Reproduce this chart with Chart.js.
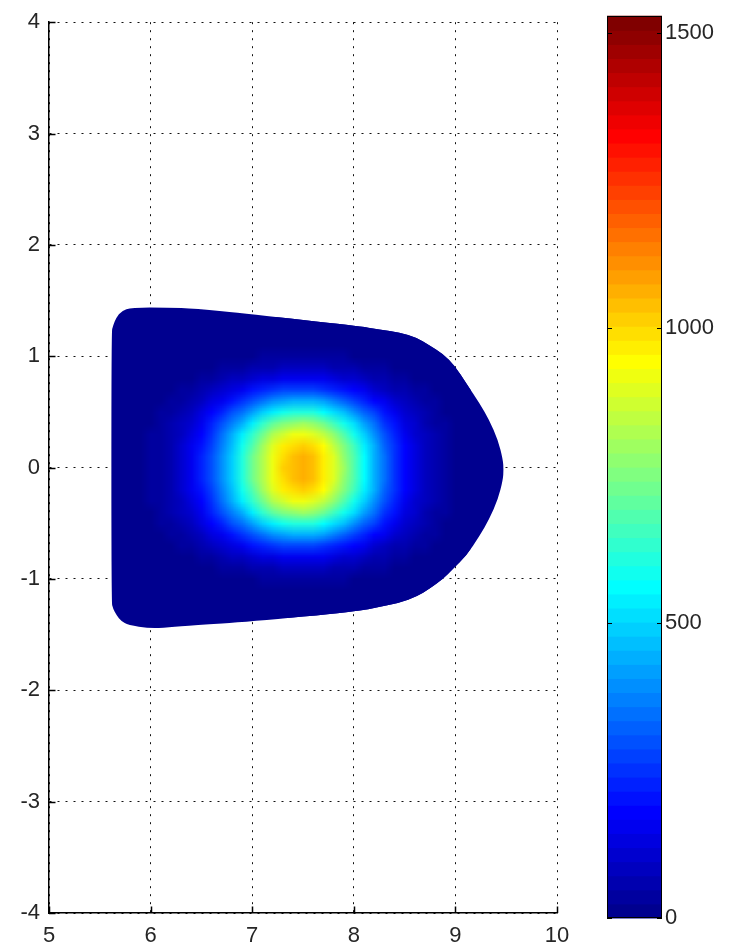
<!DOCTYPE html>
<html>
<head>
<meta charset="utf-8">
<script src="https://cdn.jsdelivr.net/npm/chart.js@4/dist/chart.umd.min.js"></script>
<style>
  html, body { margin: 0; padding: 0; background: #fff; }
  #wrap { position: relative; width: 730px; height: 948px; }
  #wrap canvas { position: absolute; left: 0; top: 0; }
</style>
</head>
<body>
<div id="wrap">
  <canvas id="field" width="730" height="948"></canvas>
  <canvas id="cbar" width="730" height="948"></canvas>
</div>
<script>
// Axis ticks
const xTicks = [5, 6, 7, 8, 9, 10];
const yTicks = [-4, -3, -2, -1, 0, 1, 2, 3, 4];

// Colour scale limits and colourbar ticks
const cbMin = 0;
const cbMax = 1528;
const cbTicks = [0, 500, 1000, 1500];

// Outline of the measured region (x, y in plot units)
const boundaryX = [5.614, 5.630, 5.663, 5.713, 5.811, 6.171, 6.434, 6.975, 8.029, 8.255, 8.452, 8.616, 8.747, 8.878, 8.993, 9.108, 9.239, 9.333, 9.419, 9.468, 9.474, 9.468, 9.419, 9.333, 9.239, 9.108, 8.976, 8.878, 8.747, 8.616, 8.452, 8.255, 8.029, 6.975, 6.434, 6.171, 5.991, 5.778, 5.713, 5.663, 5.630, 5.614];
const boundaryY = [1.215, 1.274, 1.349, 1.407, 1.438, 1.438, 1.429, 1.378, 1.271, 1.242, 1.212, 1.168, 1.095, 1.021, 0.917, 0.754, 0.576, 0.427, 0.249, 0.070, -0.019, -0.108, -0.286, -0.464, -0.612, -0.791, -0.910, -0.999, -1.088, -1.160, -1.213, -1.252, -1.290, -1.385, -1.414, -1.436, -1.445, -1.414, -1.379, -1.325, -1.266, -1.207];

// Sample positions of the intensity grid
const gridX = [6.0, 6.1, 6.2, 6.3, 6.4, 6.5, 6.6, 6.7, 6.8, 6.9, 7.0, 7.1, 7.2, 7.3, 7.4, 7.5, 7.6, 7.7, 7.8, 7.9, 8.0, 8.1, 8.2, 8.3, 8.4, 8.5, 8.6, 8.7, 8.8, 8.9, 9.0];
const gridY = [1.2, 1.1, 1.0, 0.9, 0.8, 0.7, 0.6, 0.5, 0.4, 0.3, 0.2, 0.1, 0.0, -0.1, -0.2, -0.3, -0.4, -0.5, -0.6, -0.7, -0.8, -0.9, -1.0, -1.1, -1.2];

// Intensity, one row per gridY value (top to bottom), one column per gridX value
const intensity = [
  [0, 0, 0, 0, 1, 1, 1, 1, 2, 2, 3, 3, 3, 4, 4, 4, 4, 3, 3, 3, 2, 2, 2, 1, 1, 1, 0, 0, 0, 0, 0],
  [0, 1, 1, 1, 2, 2, 3, 4, 6, 7, 8, 10, 11, 11, 12, 12, 12, 11, 10, 9, 8, 6, 5, 4, 3, 2, 2, 1, 1, 0, 0],
  [1, 1, 2, 3, 5, 7, 9, 12, 15, 19, 23, 26, 29, 31, 33, 33, 32, 31, 28, 25, 21, 18, 14, 11, 8, 6, 4, 3, 2, 1, 1],
  [2, 3, 5, 8, 11, 16, 22, 29, 36, 45, 53, 61, 68, 74, 77, 78, 76, 72, 66, 58, 50, 41, 33, 26, 19, 14, 10, 7, 4, 3, 2],
  [4, 7, 11, 16, 23, 32, 44, 58, 74, 91, 108, 125, 139, 150, 157, 158, 155, 146, 134, 118, 101, 84, 67, 52, 39, 28, 20, 14, 9, 6, 3],
  [7, 12, 19, 28, 41, 58, 78, 103, 131, 161, 192, 221, 247, 266, 278, 281, 274, 259, 237, 210, 180, 149, 119, 93, 69, 50, 35, 24, 16, 10, 6],
  [12, 19, 30, 44, 64, 90, 123, 161, 206, 253, 301, 347, 387, 418, 436, 441, 431, 407, 372, 329, 282, 233, 187, 145, 109, 79, 55, 38, 25, 16, 10],
  [16, 27, 41, 62, 90, 127, 172, 227, 289, 355, 423, 488, 544, 587, 613, 619, 605, 572, 523, 463, 396, 328, 263, 204, 153, 111, 78, 53, 34, 22, 13],
  [21, 34, 53, 79, 115, 162, 220, 289, 368, 453, 539, 622, 693, 749, 781, 789, 771, 728, 667, 590, 505, 418, 335, 260, 195, 142, 99, 68, 44, 28, 17],
  [24, 40, 62, 93, 134, 189, 258, 339, 431, 531, 632, 729, 813, 877, 916, 924, 903, 854, 781, 691, 592, 490, 393, 305, 229, 166, 116, 79, 52, 33, 20],
  [27, 44, 68, 101, 147, 207, 282, 371, 472, 581, 692, 798, 889, 960, 1002, 1012, 989, 934, 855, 757, 648, 536, 430, 333, 250, 182, 127, 87, 56, 36, 22],
  [28, 46, 70, 105, 153, 215, 293, 385, 490, 604, 719, 829, 924, 998, 1042, 1051, 1028, 971, 889, 786, 673, 557, 447, 347, 260, 189, 132, 90, 59, 38, 23],
  [28, 46, 71, 106, 154, 217, 295, 388, 494, 608, 724, 835, 931, 1005, 1049, 1059, 1035, 978, 895, 792, 678, 561, 450, 349, 262, 190, 133, 91, 59, 38, 23],
  [28, 46, 70, 105, 153, 215, 293, 385, 490, 604, 719, 829, 924, 998, 1042, 1051, 1028, 971, 889, 786, 673, 557, 447, 347, 260, 189, 132, 90, 59, 38, 23],
  [27, 44, 68, 101, 147, 207, 282, 371, 472, 581, 692, 798, 889, 960, 1002, 1012, 989, 934, 855, 757, 648, 536, 430, 333, 250, 182, 127, 87, 56, 36, 22],
  [24, 40, 62, 93, 134, 189, 258, 339, 431, 531, 632, 729, 813, 877, 916, 924, 903, 854, 781, 691, 592, 490, 393, 305, 229, 166, 116, 79, 52, 33, 20],
  [21, 34, 53, 79, 115, 162, 220, 289, 368, 453, 539, 622, 693, 749, 781, 789, 771, 728, 667, 590, 505, 418, 335, 260, 195, 142, 99, 68, 44, 28, 17],
  [16, 27, 41, 62, 90, 127, 172, 227, 289, 355, 423, 488, 544, 587, 613, 619, 605, 572, 523, 463, 396, 328, 263, 204, 153, 111, 78, 53, 34, 22, 13],
  [12, 19, 30, 44, 64, 90, 123, 161, 206, 253, 301, 347, 387, 418, 436, 441, 431, 407, 372, 329, 282, 233, 187, 145, 109, 79, 55, 38, 25, 16, 10],
  [7, 12, 19, 28, 41, 58, 78, 103, 131, 161, 192, 221, 247, 266, 278, 281, 274, 259, 237, 210, 180, 149, 119, 93, 69, 50, 35, 24, 16, 10, 6],
  [4, 7, 11, 16, 23, 32, 44, 58, 74, 91, 108, 125, 139, 150, 157, 158, 155, 146, 134, 118, 101, 84, 67, 52, 39, 28, 20, 14, 9, 6, 3],
  [2, 3, 5, 8, 11, 16, 22, 29, 36, 45, 53, 61, 68, 74, 77, 78, 76, 72, 66, 58, 50, 41, 33, 26, 19, 14, 10, 7, 4, 3, 2],
  [1, 1, 2, 3, 5, 7, 9, 12, 15, 19, 23, 26, 29, 31, 33, 33, 32, 31, 28, 25, 21, 18, 14, 11, 8, 6, 4, 3, 2, 1, 1],
  [0, 1, 1, 1, 2, 2, 3, 4, 6, 7, 8, 10, 11, 11, 12, 12, 12, 11, 10, 9, 8, 6, 5, 4, 3, 2, 2, 1, 1, 0, 0],
  [0, 0, 0, 0, 1, 1, 1, 1, 2, 2, 3, 3, 3, 4, 4, 4, 4, 3, 3, 3, 2, 2, 2, 1, 1, 1, 0, 0, 0, 0, 0]
];

const FONT = { family: "'Liberation Sans', Arial, sans-serif", size: 22 };
const TEXT = '#262626';

// 64-step "jet" colour map, returned as [r, g, b] in 0..255
function jetRGB(v) {
  let k = Math.floor((v - cbMin) / (cbMax - cbMin) * 64);
  k = Math.max(0, Math.min(63, k));
  const i = k + 1;
  const r = i <= 24 ? 0 : i <= 40 ? (i - 24) / 16 : i <= 56 ? 1 : (72 - i) / 16;
  const g = i <= 8 ? 0 : i <= 24 ? (i - 8) / 16 : i <= 40 ? 1 : i <= 55 ? (56 - i) / 16 : 0;
  const b = i <= 8 ? (i + 8) / 16 : i <= 23 ? 1 : i <= 39 ? (40 - i) / 16 : 0;
  return [Math.round(r * 255), Math.round(g * 255), Math.round(b * 255)];
}
const jetCss = v => { const c = jetRGB(v); return `rgb(${c[0]},${c[1]},${c[2]})`; };

// Closed outline path, rounded through the midpoints between outline vertices
function outlinePath(ctx, x, y) {
  const pts = boundaryX.map((bx, i) => [x.getPixelForValue(bx), y.getPixelForValue(boundaryY[i])]);
  const n = pts.length;
  const mid = (a, b) => [(a[0] + b[0]) / 2, (a[1] + b[1]) / 2];
  ctx.beginPath();
  const start = mid(pts[n - 1], pts[0]);
  ctx.moveTo(start[0], start[1]);
  for (let i = 0; i < n; i++) {
    const p = pts[i], m = mid(p, pts[(i + 1) % n]);
    ctx.quadraticCurveTo(p[0], p[1], m[0], m[1]);
  }
  ctx.closePath();
}

// Paints the intensity grid inside the outline, with smooth shading between samples
const fieldPlugin = {
  id: 'fieldShading',
  afterDatasetsDraw(chart) {
    const { ctx, scales: { x, y } } = chart;
    ctx.save();
    outlinePath(ctx, x, y);
    ctx.fillStyle = jetCss(cbMin);
    ctx.fill();
    ctx.clip();

    const nx = gridX.length, ny = gridY.length;
    const off = document.createElement('canvas');
    off.width = nx + 2; off.height = ny + 2;
    const octx = off.getContext('2d');
    const img = octx.createImageData(nx + 2, ny + 2);
    const base = jetRGB(cbMin);
    for (let r = 0; r < ny + 2; r++) {
      for (let c = 0; c < nx + 2; c++) {
        const inside = r > 0 && r <= ny && c > 0 && c <= nx;
        const col = inside ? jetRGB(intensity[r - 1][c - 1]) : base;
        const o = (r * (nx + 2) + c) * 4;
        img.data[o] = col[0]; img.data[o + 1] = col[1]; img.data[o + 2] = col[2]; img.data[o + 3] = 255;
      }
    }
    octx.putImageData(img, 0, 0);
    const dx = gridX[1] - gridX[0], dy = gridY[0] - gridY[1];
    const left = x.getPixelForValue(gridX[0] - 1.5 * dx);
    const right = x.getPixelForValue(gridX[nx - 1] + 1.5 * dx);
    const top = y.getPixelForValue(gridY[0] + 1.5 * dy);
    const bottom = y.getPixelForValue(gridY[ny - 1] - 1.5 * dy);
    ctx.imageSmoothingEnabled = true;
    ctx.drawImage(off, left, top, right - left, bottom - top);
    ctx.restore();
  },
  afterDraw(chart) {
    // inward tick marks on the left and bottom axes
    const { ctx, chartArea: a, scales: { x, y } } = chart;
    ctx.save();
    ctx.strokeStyle = '#000';
    ctx.lineWidth = 1.5;
    ctx.beginPath();
    xTicks.forEach(v => {
      const px = Math.round(x.getPixelForValue(v)) + 0.5;
      ctx.moveTo(px, a.bottom); ctx.lineTo(px, a.bottom - 6.5);
    });
    yTicks.forEach(v => {
      const py = Math.round(y.getPixelForValue(v)) + 0.5;
      ctx.moveTo(a.left, py); ctx.lineTo(a.left + 6.5, py);
    });
    ctx.stroke();
    ctx.restore();
  }
};

const gridOpts = { color: '#111', lineWidth: 1, drawTicks: false };
const borderOpts = { display: true, color: '#000', width: 1.5, dash: [2, 6] };

new Chart(document.getElementById('field'), {
  type: 'scatter',
  data: {
    datasets: [{
      data: boundaryX.map((bx, i) => ({ x: bx, y: boundaryY[i] })),
      showLine: true,
      borderColor: jetCss(cbMin),
      borderWidth: 0,
      backgroundColor: jetCss(cbMin),
      pointRadius: 0,
      fill: false
    }]
  },
  options: {
    responsive: false,
    animation: false,
    events: [],
    layout: { padding: { left: 0, top: 16, right: 173, bottom: 0 } },
    plugins: { legend: { display: false }, tooltip: { enabled: false } },
    scales: {
      x: {
        type: 'linear', min: 5, max: 10,
        afterBuildTicks: s => { s.ticks = xTicks.map(v => ({ value: v })); },
        afterFit: s => { s.height = 35; },
        grid: gridOpts, border: borderOpts,
        ticks: { padding: 10, color: TEXT, font: FONT, maxRotation: 0, autoSkip: false, callback: v => String(v) }
      },
      y: {
        type: 'linear', min: -4, max: 4,
        afterBuildTicks: s => { s.ticks = yTicks.map(v => ({ value: v })); },
        afterFit: s => { s.width = 49; },
        grid: gridOpts, border: borderOpts,
        ticks: { padding: 9, color: TEXT, font: FONT, autoSkip: false, callback: v => String(v) }
      }
    }
  },
  plugins: [fieldPlugin]
});

// Colour bar: 64 bands stacked along the value scale
const colorbarPlugin = {
  id: 'colorbarBands',
  beforeDatasetsDraw(chart) {
    const { ctx, chartArea: a, scales: { y } } = chart;
    ctx.save();
    const step = (cbMax - cbMin) / 64;
    for (let k = 0; k < 64; k++) {
      const v0 = cbMin + k * step, v1 = v0 + step;
      const y0 = y.getPixelForValue(v0), y1 = y.getPixelForValue(v1);
      ctx.fillStyle = jetCss(v0 + step / 2);
      ctx.fillRect(a.left, y1 - 0.5, a.right - a.left, y0 - y1 + 1);
    }
    ctx.strokeStyle = '#000';
    ctx.lineWidth = 1;
    ctx.strokeRect(Math.round(a.left) + 0.5, Math.round(a.top) + 0.5, Math.round(a.right - a.left) - 1, Math.round(a.bottom - a.top) - 1);
    ctx.beginPath();
    cbTicks.forEach(v => {
      const py = Math.round(y.getPixelForValue(v)) + 0.5;
      ctx.moveTo(a.left, py); ctx.lineTo(a.left + 5, py);
      ctx.moveTo(a.right, py); ctx.lineTo(a.right - 5, py);
    });
    ctx.stroke();
    ctx.restore();
  }
};

new Chart(document.getElementById('cbar'), {
  type: 'scatter',
  data: { datasets: [] },
  options: {
    responsive: false,
    animation: false,
    events: [],
    layout: { padding: { left: 607, top: 15, right: 0, bottom: 30 } },
    plugins: { legend: { display: false }, tooltip: { enabled: false } },
    scales: {
      x: { type: 'linear', display: false, min: 0, max: 1 },
      y: {
        type: 'linear', position: 'right', min: cbMin, max: cbMax,
        afterBuildTicks: s => { s.ticks = cbTicks.map(v => ({ value: v })); },
        afterFit: s => { s.width = 68; },
        grid: { display: false, drawTicks: false },
        border: { display: false },
        ticks: { padding: 3, color: TEXT, font: FONT, autoSkip: false, callback: v => String(v) }
      }
    }
  },
  plugins: [colorbarPlugin]
});
</script>
</body>
</html>
